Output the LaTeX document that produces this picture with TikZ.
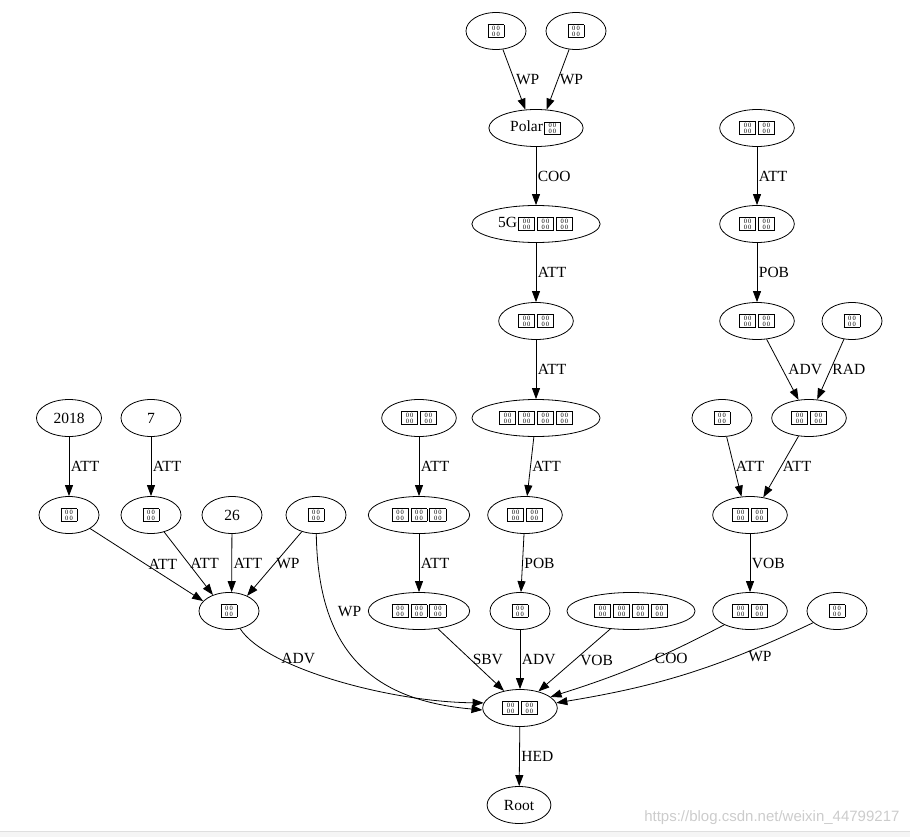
\documentclass[tikz,border=0pt]{standalone}
\usepackage{fontspec}
\setmainfont{Liberation Serif}
\setsansfont{Liberation Sans}
\usepackage{tikz}
\usetikzlibrary{shapes.geometric,arrows.meta}

% a glyph the renderer could not show: framed box with hex digits
\newcommand{\tofu}{\kern1pt{\setlength{\fboxsep}{0pt}\setlength{\fboxrule}{0.7pt}%
  \fbox{\parbox[c][12pt][c]{15.5pt}{\centering\fontsize{6.5}{5.8}\selectfont 0\,0\\0\,0}}}\kern1pt}

\begin{document}
\begin{tikzpicture}[x=1pt,y=1pt,
  tok/.style={draw,ellipse,line width=0.8pt,inner xsep=7.5pt,inner ysep=2pt,
    minimum width=60pt,minimum height=37pt,font=\fontsize{15.5}{16}\selectfont},
  dep/.style={-{Triangle[length=11pt,width=8pt]},line width=0.8pt},
  lab/.style={right,inner sep=1.5pt,font=\fontsize{15.5}{16}\selectfont}]
  \useasboundingbox (0,0) rectangle (910,-837);
  \fill[gray!8] (0,-831) rectangle (910,-837);
  \draw[gray!25] (0,-831) -- (910,-831);
  % middle column
  \node[tok] (a1) at (496,-31) {\tofu};
  \node[tok] (a2) at (576,-31) {\tofu};
  \node[tok] (polar) at (536,-128) {Polar\tofu};
  \node[tok] (fiveg) at (536,-224) {5G\tofu\tofu\tofu};
  \node[tok] (b) at (536,-321) {\tofu\tofu};
  \node[tok] (c) at (536,-418) {\tofu\tofu\tofu\tofu};
  \node[tok] (d) at (525,-515) {\tofu\tofu};
  \node[tok] (e) at (520,-611) {\tofu};
  \node[tok] (h) at (419,-418) {\tofu\tofu};
  \node[tok] (i) at (419,-515) {\tofu\tofu\tofu};
  \node[tok] (f) at (419,-611) {\tofu\tofu\tofu};
  \node[tok] (g) at (631,-611) {\tofu\tofu\tofu\tofu};
  \node[tok] (r) at (520,-708) {\tofu\tofu};
  \node[tok] (root) at (519,-805) {Root};
  % left side
  \node[tok] (y2018) at (69,-418) {2018};
  \node[tok] (y7) at (151,-418) {7};
  \node[tok] (j) at (69,-515) {\tofu};
  \node[tok] (k) at (151,-515) {\tofu};
  \node[tok] (n26) at (232,-515) {26};
  \node[tok] (l) at (316,-515) {\tofu};
  \node[tok] (m) at (229,-611) {\tofu};
  % right side
  \node[tok] (n1) at (757,-128) {\tofu\tofu};
  \node[tok] (n2) at (757,-224) {\tofu\tofu};
  \node[tok] (n3) at (757,-321) {\tofu\tofu};
  \node[tok] (n4) at (852,-321) {\tofu};
  \node[tok] (n5) at (809,-418) {\tofu\tofu};
  \node[tok] (n6) at (722,-418) {\tofu};
  \node[tok] (n7) at (750,-515) {\tofu\tofu};
  \node[tok] (n8) at (750,-611) {\tofu\tofu};
  \node[tok] (n9) at (837,-611) {\tofu};
  \node[text=gray!40,font=\sffamily\fontsize{15}{15}\selectfont,anchor=east] (wm)
    at (903,-818) {https://blog.csdn.net/weixin\_44799217};

  \draw[dep] (a1) -- node[lab]{WP} (polar.120);
  \draw[dep] (a2) -- node[lab]{WP} (polar.60);
  \draw[dep] (polar) -- node[lab]{COO} (fiveg);
  \draw[dep] (fiveg) -- node[lab]{ATT} (b);
  \draw[dep] (b) -- node[lab]{ATT} (c);
  \draw[dep] (c) -- node[lab]{ATT} (d);
  \draw[dep] (d) -- node[lab]{POB} (e);
  \draw[dep] (h) -- node[lab]{ATT} (i);
  \draw[dep] (i) -- node[lab]{ATT} (f);
  \draw[dep] (y2018) -- node[lab]{ATT} (j);
  \draw[dep] (y7) -- node[lab]{ATT} (k);
  \draw[dep] (j) -- node[lab]{ATT} (m.159);
  \draw[dep] (k) -- node[lab]{ATT} (m.135);
  \draw[dep] (n26) -- node[lab]{ATT} (m.82);
  \draw[dep] (l) -- node[lab]{WP} (m.40);
  \draw[dep] (n1) -- node[lab]{ATT} (n2);
  \draw[dep] (n2) -- node[lab]{POB} (n3);
  \draw[dep] (n3) -- node[lab,xshift=4pt]{ADV} (n5.120);
  \draw[dep] (n4) -- node[lab]{RAD} (n5.66);
  \draw[dep] (n6) -- node[lab]{ATT} (n7.115);
  \draw[dep] (n5) -- node[lab]{ATT} (n7.53);
  \draw[dep] (n7) -- node[lab]{VOB} (n8);
  % into the head word
  \draw[dep] (m) .. controls (265,-668) and (390,-702) .. node[lab,pos=.27]{ADV} (r.172);
  \draw[dep] (l) .. controls (318,-650) and (370,-700) .. node[lab,pos=.26,xshift=8pt]{WP} (r.183);
  \draw[dep] (f) -- node[lab]{SBV} (r.133);
  \draw[dep] (e) -- node[lab]{ADV} (r);
  \draw[dep] (g) -- node[lab,xshift=4pt]{VOB} (r.42);
  \draw[dep] (n8) to[bend left=5] node[lab,pos=.3,anchor=north]{COO} (r.20);
  \draw[dep] (n9) to[bend left=8] node[lab,pos=.2,anchor=north,yshift=-3pt]{WP} (r.8);
  \draw[dep] (r) -- node[lab]{HED} (root);
\end{tikzpicture}
\end{document}
